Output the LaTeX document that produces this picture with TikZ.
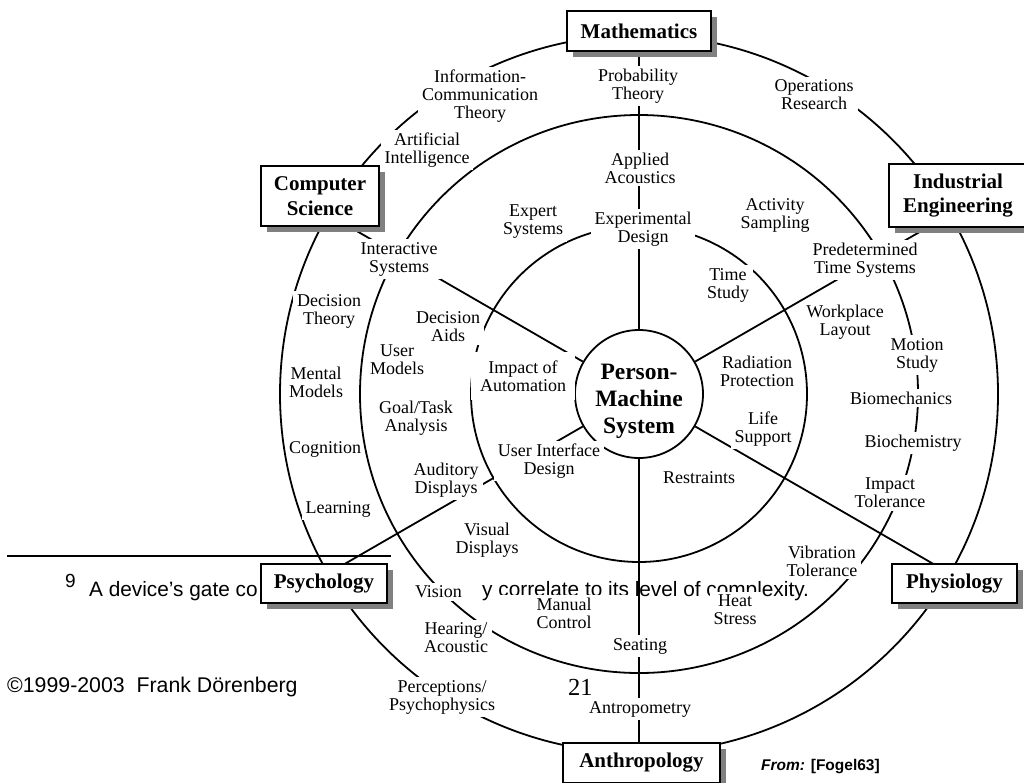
\documentclass[tikz,border=0pt]{standalone}
\usepackage{fontspec}
\setmainfont{Liberation Serif}
\newfontfamily\arialfont{Liberation Sans}
\usetikzlibrary{shadows,calc}
\pgfdeclarelayer{foot}
\pgfdeclarelayer{lines}
\pgfsetlayers{foot,lines,main}

\tikzset{
  ring/.style={draw, line width=1.8pt},
  link/.style={draw, line width=1.8pt},
  lbl/.style={fill=white, font=\fontsize{18}{18}\selectfont, align=center,
    inner xsep=4pt, inner ysep=3pt},
  field/.style={draw, line width=2pt, fill=white, align=center,
    font=\fontsize{21}{24.5}\selectfont\bfseries,
    drop shadow={shadow xshift=6pt, shadow yshift=-6pt, fill=black!50, opacity=1}},
  foottext/.style={anchor=base west, inner sep=0pt,
    font=\arialfont\fontsize{20.8}{24}\selectfont},
}

\begin{document}
\begin{tikzpicture}[x=1pt,y=1pt]
\useasboundingbox (0,0) rectangle (1024,-782);

\coordinate (C) at (639,-394);

% ---------- page footnote and folio (lowest layer) ----------
\begin{pgfonlayer}{foot}
  \draw[line width=1.5pt] (7,-556) -- (391,-556);
  \node[anchor=base west, inner sep=0pt, font=\arialfont\fontsize{19}{19}\selectfont] (fnMark) at (65,-587) {9};
  \node[foottext] (fnHead) at (89,-596) {A device’s gate co};
  \node[foottext] (fnTail) at (482,-596) {y correlate to its level of complexity.};
  \node[foottext, font=\arialfont\fontsize{21.3}{24}\selectfont] (copyr) at (7,-692) {©1999-2003~ Frank Dörenberg};
  \node[anchor=base west, inner sep=0pt, font=\fontsize{24.5}{24.5}\selectfont] (folio) at (568,-695) {21};
\end{pgfonlayer}

% ---------- core ----------
\node[draw, circle, line width=1.8pt, minimum size=128pt, inner sep=0pt] (pms) at (C) {};
\node[font=\fontsize{23.5}{27}\selectfont\bfseries, align=center, inner sep=0pt] (pmsText) at (639,-401) {Person-\\Machine\\System};

% ---------- disciplines ----------
\node[field, minimum width=144pt, minimum height=40pt] (math)   at (639,-31)     {Mathematics};
\node[field, minimum width=118pt, minimum height=60pt] (cs)     at (320,-196)    {Computer\\Science};
\node[field, minimum width=138pt, minimum height=63pt] (ie)     at (958,-195.5)  {Industrial\\Engineering};
\node[field, minimum width=126pt, minimum height=39pt] (psych)  at (324,-583.5)  {Psychology};
\node[field, minimum width=125pt, minimum height=39pt] (phys)   at (954.5,-583.5){Physiology};
\node[field, minimum width=157pt, minimum height=40pt] (anthro) at (641.5,-763)  {Anthropology};

% ---------- rings and spokes ----------
\coordinate (csEnd)    at ($(C)+(150:372)$);
\coordinate (ieEnd)    at ($(C)+(30:372)$);
\coordinate (psychEnd) at ($(C)+(210:372)$);
\coordinate (physEnd)  at ($(C)+(330:372)$);

\begin{pgfonlayer}{lines}
  \draw[ring] (C) circle[radius=168];
  \draw[ring] (C) circle[radius=279];
  \draw[ring] (C) circle[radius=359];
  \draw[link] (pms) -- (pms |- math.south);
  \draw[link] (pms) -- (pms |- anthro.north);
  \draw[link] (pms) -- (csEnd);
  \draw[link] (pms) -- (ieEnd);
  \draw[link] (pms) -- (psychEnd);
  \draw[link] (pms) -- (physEnd);
\end{pgfonlayer}

% ---------- topics ----------
\node[lbl] (infoComm) at (480,-96)  {Information-\\Communication\\Theory};
\node[lbl] (probTh)   at (638,-86)  {Probability\\Theory};
\node[lbl] (opRes)    at (814,-95)  {Operations\\Research};
\node[lbl] (artInt)   at (427,-150) {Artificial\\Intelligence};
\node[lbl] (applAc)   at (640,-168) {Applied\\Acoustics};
\node[lbl] (expSys)   at (533,-222) {Expert\\Systems};
\node[lbl] (expDes)   at (643,-229) {Experimental\\Design};
\node[lbl] (actSam)   at (775,-215) {Activity\\Sampling};
\node[lbl] (predTime) at (865,-260) {Predetermined\\Time Systems};
\node[lbl] (interSys) at (399,-259) {Interactive\\Systems};
\node[lbl] (decTh)    at (329,-311) {Decision\\Theory};
\node[lbl] (mentMod)  at (316,-382) {Mental\\Models};
\node[lbl, inner xsep=0pt] (cogn) at (325,-449) {Cognition};
\node[lbl] (learn)    at (338,-509) {Learning};
\node[lbl] (userMod)  at (397,-360) {User\\Models};
\node[lbl] (goalTask) at (416,-418) {Goal/Task\\Analysis};
\node[lbl] (decAids)  at (448,-327) {Decision\\Aids};
\node[lbl, inner sep=9pt] (impAuto) at (523,-376) {Impact of\\Automation};
\node[lbl] (uid)      at (549,-461) {User Interface\\Design};
\node[lbl] (audDisp)  at (446,-480) {Auditory\\Displays};
\node[lbl] (visDisp)  at (487,-540) {Visual\\Displays};
\node[lbl, minimum width=83pt] (vision) at (438.5,-592) {Vision};
\node[lbl] (hearing)  at (456,-638) {Hearing/\\Acoustic};
\node[lbl] (percep)   at (442,-697) {Perceptions/\\Psychophysics};
\node[lbl, minimum width=139pt] (manual) at (564,-613) {Manual\\Control};
\node[lbl] (seating)  at (640,-646) {Seating};
\node[lbl] (antro)    at (640,-709) {Antropometry};
\node[lbl] (heat)     at (735,-610) {Heat\\Stress};
\node[lbl] (restr)    at (699,-478) {Restraints};
\node[lbl] (vibTol)   at (822,-561) {Vibration\\Tolerance};
\node[lbl] (impTol)   at (890,-493) {Impact\\Tolerance};
\node[lbl] (biochem)  at (913,-443) {Biochemistry};
\node[lbl] (biomech)  at (901,-398) {Biomechanics};
\node[lbl] (motion)   at (917,-355) {Motion\\Study};
\node[lbl] (workpl)   at (845,-322) {Workplace\\Layout};
\node[lbl] (timeSt)   at (728,-285) {Time\\Study};
\node[lbl] (radProt)  at (757,-371) {Radiation\\Protection};
\node[lbl] (lifeSup)  at (763,-429) {Life\\Support};

% ---------- source ----------
\node[anchor=base west, inner sep=0pt, font=\arialfont\bfseries\fontsize{15.5}{18}\selectfont] (source) at (761,-770) {{\itshape From:} [Fogel63]};
\end{tikzpicture}
\end{document}
